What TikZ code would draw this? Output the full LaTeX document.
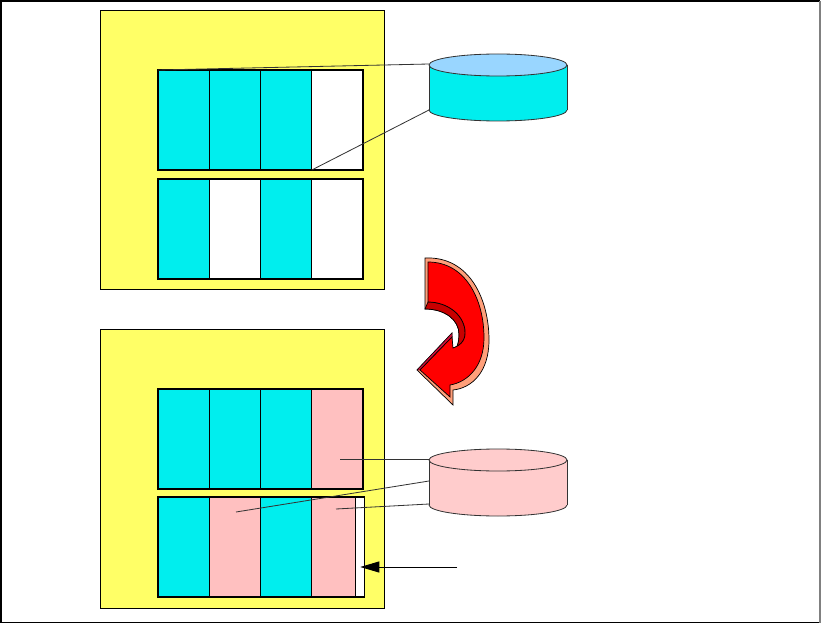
\documentclass[tikz,border=0pt]{standalone}
\usepackage{xcolor}
\definecolor{panel}{HTML}{FFFF66}
\definecolor{used}{HTML}{00EEEE}
\definecolor{moved}{HTML}{FFC0C0}
\definecolor{disktop}{HTML}{99D6FF}
\definecolor{diskpink}{HTML}{FFCCCC}
\definecolor{turnred}{HTML}{FF0000}
\definecolor{turnlight}{HTML}{FF9F7A}
\definecolor{turndark}{HTML}{C80000}
\definecolor{turnedge}{HTML}{D0103A}
\usepackage{tikz}
\usetikzlibrary{arrows.meta, positioning, calc}

\tikzset{
  cell/.style={draw, line width=1pt, anchor=north west, minimum width=15.375mm,
    minimum height=30mm, inner sep=0pt, outer sep=0pt},
  panelbox/.style={draw, line width=0.8pt, fill=panel},
  link/.style={draw=black!80, line width=0.7pt},
  diskline/.style={draw=black!80, line width=0.7pt},
}

\begin{document}
\begin{tikzpicture}[x=0.3mm, y=-0.3mm, >=Stealth]
  \useasboundingbox (0,0) rectangle (821,624);

  % frame
  \draw[line width=1.2pt] (820,1) -- (1,1) -- (1,622.5) -- (820,622.5);
  \draw[gray, line width=1pt] (820,1) -- (820,622.5);

  % before
  \draw[panelbox] (100,10) rectangle (384,289);
  \node[cell, fill=used] (t1) at (158,70) {};
  \node[cell, fill=used] (t2) at (t1.north east) {};
  \node[cell, fill=used] (t3) at (t2.north east) {};
  \node[cell, fill=white] (t4) at (t3.north east) {};
  \node[cell, fill=used] (t5) at (158,179) {};
  \node[cell, fill=white] (t6) at (t5.north east) {};
  \node[cell, fill=used] (t7) at (t6.north east) {};
  \node[cell, fill=white] (t8) at (t7.north east) {};

  % disk (before)
  \filldraw[fill=used, diskline] (498,110) ellipse [x radius=69, y radius=11];
  \fill[used] (429,65) rectangle (567,110);
  \draw[diskline] (429,65) -- (429,110) (567,65) -- (567,110);
  \filldraw[fill=disktop, diskline] (498,65) ellipse [x radius=69, y radius=11];
  \coordinate (d1top) at (429,64);
  \coordinate (d1bot) at (429,110);
  \draw[link] (t1.north west) -- (d1top);
  \draw[link] (t4.south west) -- (d1bot);

  % after
  \draw[panelbox] (100,329) rectangle (384,608);
  \node[cell, fill=used] (b1) at (158,389) {};
  \node[cell, fill=used] (b2) at (b1.north east) {};
  \node[cell, fill=used] (b3) at (b2.north east) {};
  \node[cell, fill=moved] (b4) at (b3.north east) {};
  \node[cell, fill=used] (b5) at (158,497) {};
  \node[cell, fill=moved] (b6) at (b5.north east) {};
  \node[cell, fill=used] (b7) at (b6.north east) {};
  \node[cell, fill=moved, minimum width=13.2mm] (b8) at (b7.north east) {};
  \node[cell, fill=white, minimum width=2.7mm] (gap) at (b8.north east) {};

  % disk (after)
  \filldraw[fill=diskpink, diskline] (498,505) ellipse [x radius=69, y radius=11];
  \fill[diskpink] (429,460) rectangle (567,505);
  \draw[diskline] (429,460) -- (429,505) (567,460) -- (567,505);
  \filldraw[fill=diskpink, diskline] (498,460) ellipse [x radius=69, y radius=11];
  \coordinate (d2top) at (429,459);
  \coordinate (d2mid) at (429,481);
  \coordinate (d2bot) at (429,504);
  \coordinate (b4mark) at (340,459);
  \coordinate (b6mark) at (236,512);
  \coordinate (b8mark) at (336,509);
  \draw[link] (b4mark) -- (d2top);
  \draw[link] (b6mark) -- (d2mid);
  \draw[link] (b8mark) -- (d2bot);

  % pointer to free space
  \coordinate (pointer) at (457,567);
  \draw[-{Triangle[length=5.7mm, width=3.3mm]}, line width=0.8pt]
    (pointer) -- (pointer -| gap.center);

  % turn arrow
  \filldraw[fill=turnlight, draw=black, line width=0.6pt]
    (425,258) .. controls (470,256) and (489,300) .. (489,340)
    .. controls (489,372) and (472,388) .. (453,390)
    -- (453,405) -- (417,370) -- (452,333) -- (452,352)
    .. controls (456,350) and (459,345) .. (459,334)
    .. controls (459,320) and (445,309) .. (425,309) -- cycle;
  \filldraw[fill=turndark, draw=black, line width=0.6pt]
    (428,302) .. controls (447,302) and (463,314) .. (465,330)
    .. controls (466,339) and (462,345) .. (453,348) -- (452,352)
    .. controls (456,350) and (459,345) .. (459,334)
    .. controls (459,320) and (445,309) .. (425,309) -- cycle;
  \filldraw[fill=turnedge, draw=black, line width=0.4pt]
    (417,370) -- (452,333) -- (452,337) -- (420,370) -- cycle;
  \filldraw[fill=turnred, draw=black, line width=0.6pt]
    (428,262) .. controls (466,262) and (484,300) .. (484,338)
    .. controls (484,366) and (468,382) .. (450,385)
    -- (450,397) -- (420,370) -- (452,337) -- (453,348)
    .. controls (462,345) and (466,339) .. (465,330)
    .. controls (463,314) and (447,302) .. (428,302) -- cycle;
\end{tikzpicture}
\end{document}
